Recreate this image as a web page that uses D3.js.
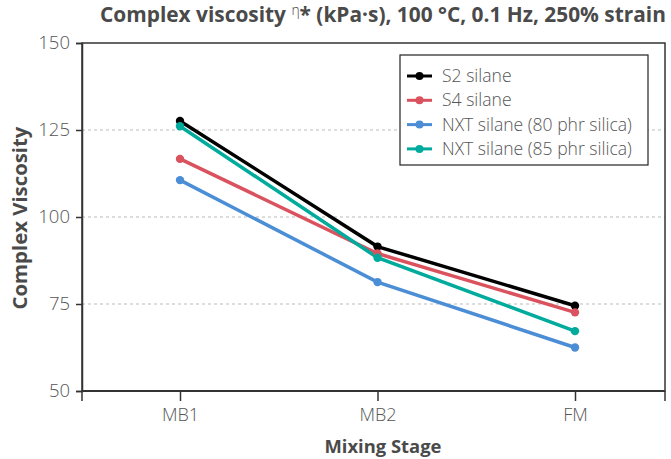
<!DOCTYPE html>
<html><head><meta charset="utf-8">
<script src="https://cdn.jsdelivr.net/npm/d3@7"></script>
<style>body{margin:0;background:#fff}svg{display:block}</style>
</head><body>
<svg id="c" width="671" height="459"></svg>
<script>
const categories = ["MB1", "MB2", "FM"];
const seriesNames = ["S2 silane", "S4 silane", "NXT silane (80 phr silica)", "NXT silane (85 phr silica)"];
const s2 = [127.6, 91.5, 74.5];
const s4 = [116.7, 89.5, 72.6];
const nxt80 = [110.6, 81.3, 62.5];
const nxt85 = [126.1, 88.3, 67.2];
const seriesColors = ["#000000", "#d9525e", "#4b8ed6", "#00ab9d"];
const yTicks = [50, 75, 100, 125, 150];

const series = [s2, s4, nxt80, nxt85];
const svg = d3.select("#c");
const L = 82, R = 665, T = 43, B = 391;
const font = "'Open Sans', Lato, sans-serif";
const grey = "#555";
const dark = "#4a4a4a";

function fit(sel, target, base) {
  const len = sel.node().getComputedTextLength();
  const k = target / len;
  sel.attr("font-size", base * k);
  sel.selectAll("tspan").each(function() {
    const fs = +d3.select(this).attr("font-size");
    if (fs) d3.select(this).attr("font-size", fs * k);
    const dy = d3.select(this).attr("dy");
    if (dy) d3.select(this).attr("dy", +dy * k);
  });
}

const x = d3.scalePoint().domain(categories).range([180, 575]);
const y = d3.scaleLinear().domain([50, 150]).range([B, T]);

// gridlines
svg.append("g").selectAll("line").data(yTicks.filter(v => v > 50 && v < 150)).join("line")
  .attr("x1", L).attr("x2", R).attr("y1", d => y(d)).attr("y2", d => y(d))
  .attr("stroke", "#bbb").attr("stroke-width", 1).attr("stroke-dasharray", "3,3");

// frame
svg.append("rect").attr("x", L).attr("y", T).attr("width", R - L).attr("height", B - T)
  .attr("fill", "none").attr("stroke", "#333").attr("stroke-width", 1.5);

// y axis
const ya = svg.append("g").attr("transform", `translate(${L},0)`)
  .call(d3.axisLeft(y).tickValues(yTicks).tickSize(6).tickPadding(6));
ya.select(".domain").attr("stroke", "#333").attr("stroke-width", 1.5);
ya.selectAll(".tick line").attr("stroke", "#333").attr("stroke-width", 1.5);
ya.selectAll("text").attr("font-family", font).attr("font-weight", 300).attr("font-size", 18.5).attr("fill", grey);

// x axis
const xa = svg.append("g").attr("transform", `translate(0,${B})`)
  .call(d3.axisBottom(x).tickSize(10).tickPadding(7));
xa.select(".domain").remove();
xa.selectAll(".tick line").attr("stroke", "#333").attr("stroke-width", 1.5);
xa.selectAll("text").attr("font-family", font).attr("font-weight", 300).attr("font-size", 18).attr("fill", grey);
svg.append("g").selectAll("line").data([L, R]).join("line")
  .attr("x1", d => d).attr("x2", d => d).attr("y1", B).attr("y2", B + 10)
  .attr("stroke", "#333").attr("stroke-width", 1.5);
svg.append("line").attr("x1", L).attr("x2", R).attr("y1", B).attr("y2", B)
  .attr("stroke", "#333").attr("stroke-width", 2);

// lines
const line = d3.line().x((d, i) => x(categories[i])).y(d => y(d));
series.forEach((s, k) => {
  svg.append("path").datum(s).attr("d", line).attr("fill", "none")
    .attr("stroke", seriesColors[k]).attr("stroke-width", 3.5);
});
series.forEach((s, k) => {
  svg.append("g").selectAll("circle").data(s).join("circle")
    .attr("cx", (d, i) => x(categories[i])).attr("cy", d => y(d)).attr("r", 4.2)
    .attr("fill", seriesColors[k]);
});

// legend
const lg = svg.append("g");
lg.append("rect").attr("x", 400).attr("y", 55).attr("width", 248).attr("height", 110)
  .attr("fill", "#fff").attr("stroke", "#222").attr("stroke-width", 1.2);
seriesNames.forEach((n, k) => {
  const yy = 76 + k * 24.3;
  lg.append("line").attr("x1", 407).attr("x2", 432).attr("y1", yy).attr("y2", yy)
    .attr("stroke", seriesColors[k]).attr("stroke-width", 3);
  lg.append("circle").attr("cx", 419.5).attr("cy", yy).attr("r", 4).attr("fill", seriesColors[k]);
  const tx = lg.append("text").attr("x", 442).attr("y", yy).attr("dy", "0.35em")
    .attr("font-family", font).attr("font-weight", 300).attr("font-size", 15.5).attr("fill", grey).text(n);
  if (k === 2) tx.classed("ref", true);
});
{
  const ref = lg.select("text.ref");
  const k = 190 / ref.node().getComputedTextLength();
  lg.selectAll("text").attr("font-size", 15.5 * k);
}

// title
const t = svg.append("text").attr("x", 100).attr("y", 22)
  .attr("font-family", font).attr("font-size", 18).attr("font-weight", "bold").attr("fill", dark);
t.append("tspan").text("Complex viscosity ");
t.append("tspan").attr("font-size", 12).attr("font-weight", 300).attr("dy", -6).text("η");
t.append("tspan").attr("dy", 6).text("* (kPa·s), 100 °C, 0.1 Hz, 250% strain");
fit(t, 566, 18);

// axis labels
const xl = svg.append("text").attr("x", 383).attr("y", 453).attr("text-anchor", "middle")
  .attr("font-family", font).attr("font-size", 17).attr("font-weight", "bold").attr("fill", dark)
  .text("Mixing Stage");
fit(xl, 117, 17);
const yl = svg.append("text").attr("transform", `translate(27,218) rotate(-90)`).attr("text-anchor", "middle")
  .attr("font-family", font).attr("font-size", 17).attr("font-weight", "bold").attr("fill", dark)
  .text("Complex Viscosity");
fit(yl, 183, 17);
</script>
</body></html>
